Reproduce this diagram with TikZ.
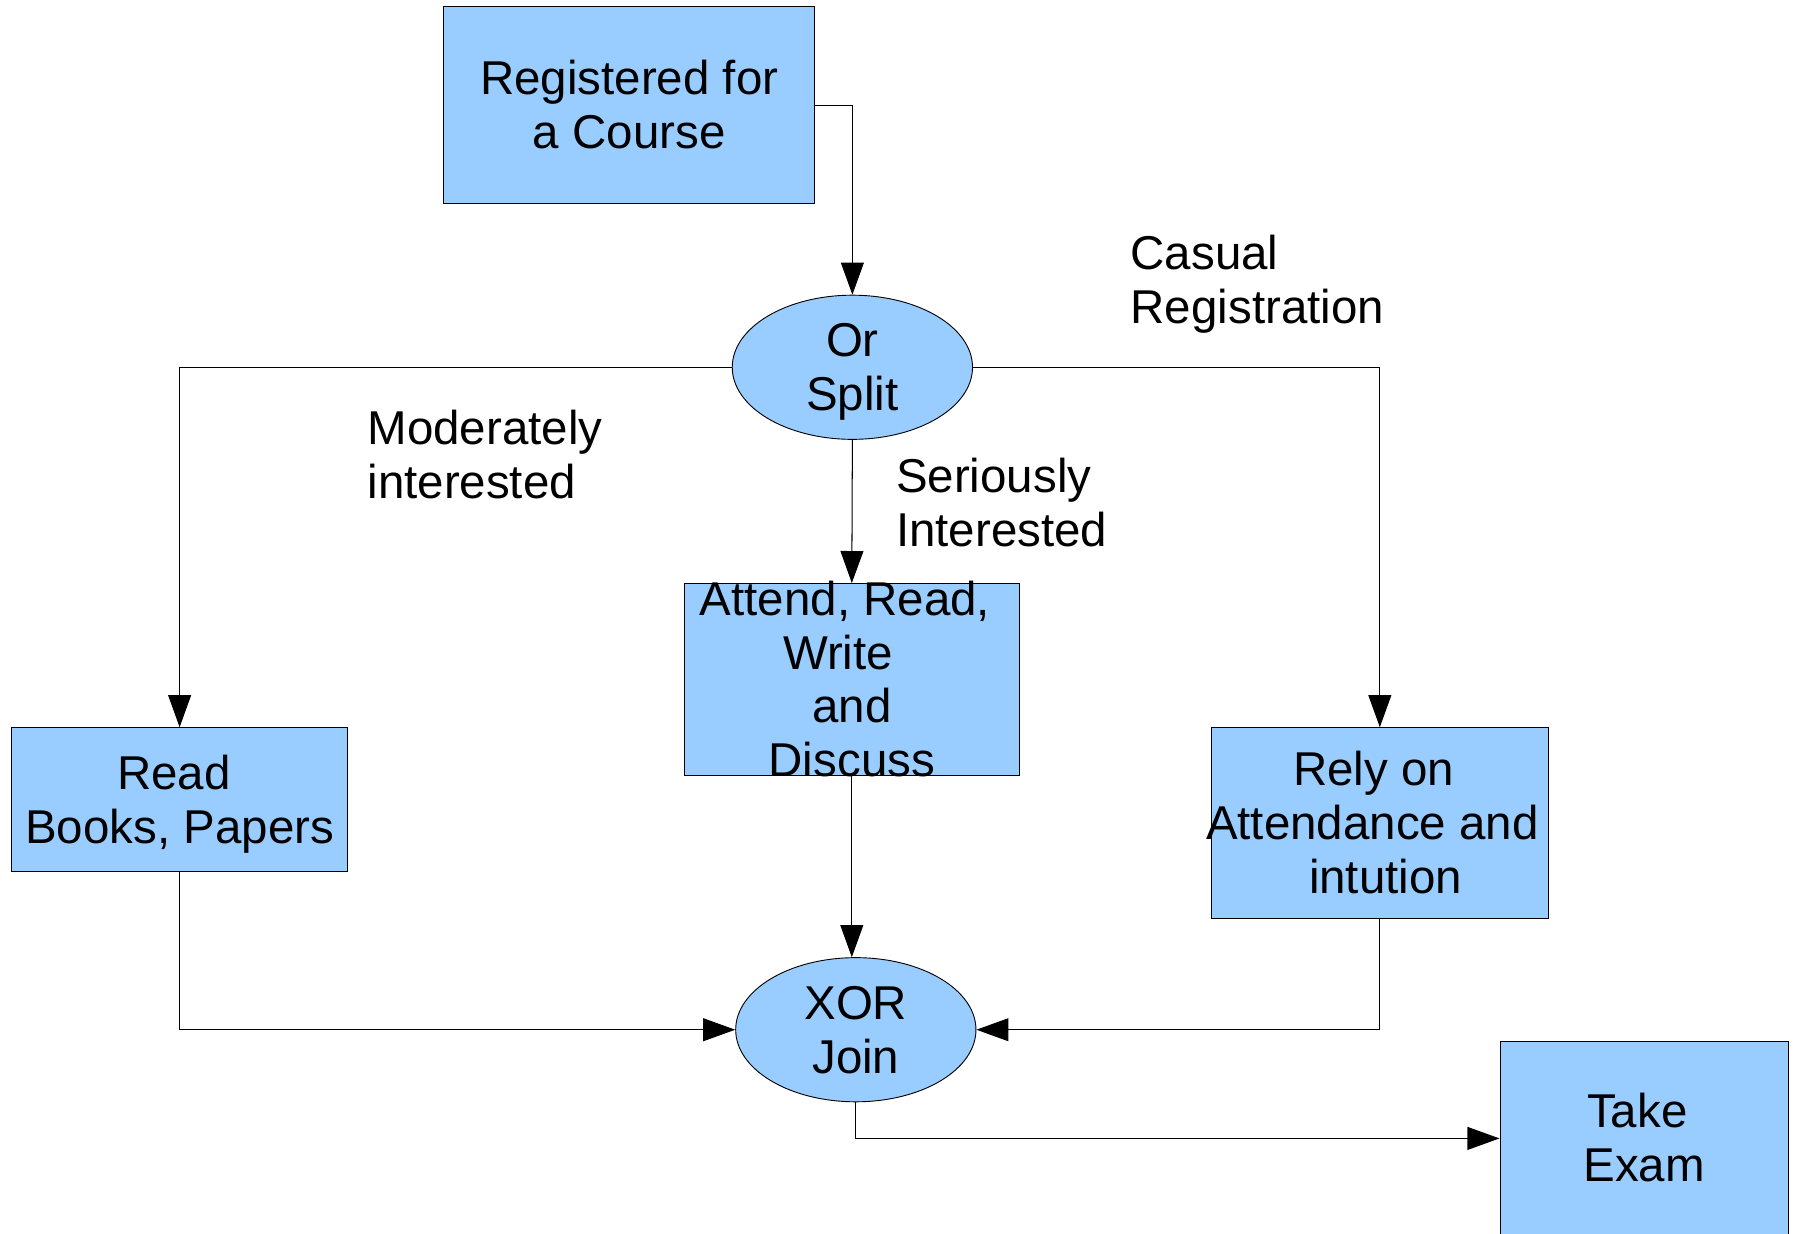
\documentclass[tikz,border=0pt]{standalone}
\usepackage{fontspec}
\setmainfont{Liberation Sans}
\usetikzlibrary{arrows.meta,shapes.geometric}
\definecolor{boxfill}{HTML}{99CCFF}
\newcommand\linestrut{\rule[-0.212em]{0pt}{1.117em}}
\newcommand\offln[2]{\makebox[0pt]{\hspace*{#1}\linestrut#2}}
\newcommand\lftln[1]{\linestrut#1}
\tikzset{
  every node/.style={font=\fontsize{41.5}{47}\selectfont},
  procbox/.style={draw=black, line width=0.8pt, fill=boxfill, inner sep=0pt, align=center},
  gate/.style={ellipse, draw=black, line width=0.8pt, fill=boxfill, inner sep=-5pt, align=center, minimum width=210pt, minimum height=126pt},
  conn/.style={draw=black, line width=0.9pt, -{Triangle[length=28pt,width=20pt]}},
  lbl/.style={align=left, anchor=west, inner sep=0pt}
}
\begin{document}
\begin{tikzpicture}[x=1pt,y=-1pt]
\useasboundingbox (0,0) rectangle (1568,1078);
\node[procbox, minimum width=324pt, minimum height=172pt] (reg) at (550,92) {\offln{0pt}{Registered for}\\\offln{0pt}{a Course}};
\node[gate] (or) at (745,321) {\offln{0pt}{Or}\\\offln{0pt}{Split}};
\node[procbox, minimum width=294pt, minimum height=126pt] (read) at (157,699) {\offln{-10pt}{Read}\\\offln{0pt}{Books, Papers}};
\node[procbox, inner ysep=-12pt, minimum width=293pt, minimum height=168pt] (att) at (744.5,594) {\offln{-12pt}{Attend, Read,}\\\offln{-24pt}{Write}\\\offln{0pt}{and}\\\offln{0pt}{Discuss}};
\node[procbox, minimum width=294pt, minimum height=167pt] (rely) at (1206,719.5) {\offln{-11pt}{Rely on}\\\offln{-13pt}{Attendance and}\\\offln{10pt}{intution}};
\node[gate] (xor) at (748,900) {\offln{0pt}{XOR}\\\offln{0pt}{Join}};
\node[procbox, minimum width=252pt, minimum height=170pt] (exam) at (1437,995) {\offln{-12pt}{Take}\\\offln{0pt}{Exam}};
\node[lbl] (casual) at (988,245) {\lftln{Casual}\\\lftln{Registration}};
\node[lbl] (moder) at (321,398) {\lftln{Moderately}\\\lftln{interested}};
\node[lbl] (serious) at (783,439.5) {\lftln{Seriously}\\\lftln{Interested}};
\draw[conn] (reg.east) -| (or.north);
\draw[conn] (or.west) -| (read.north);
\draw[conn] (or.east) -| (rely.north);
\draw[conn] (or.south) -- (att.north);
\draw[conn] (att.south) -- (att.south |- xor.north);
\draw[conn] (read.south) |- (xor.west);
\draw[conn] (rely.south) |- (xor.east);
\draw[conn] (xor.south) |- (exam.west);
\end{tikzpicture}
\end{document}
